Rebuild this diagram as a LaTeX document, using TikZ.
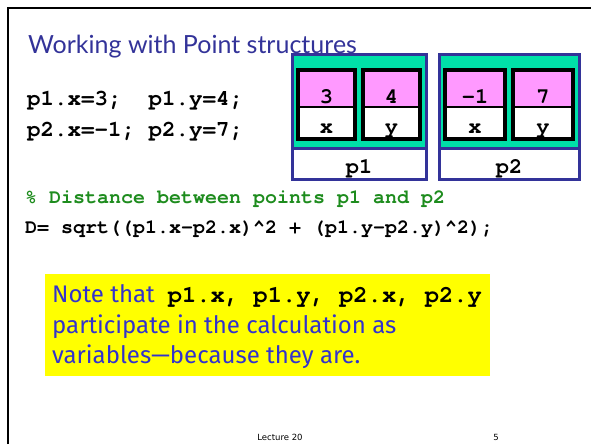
\documentclass[tikz,border=0pt]{standalone}
\usepackage{fontspec}
\setmainfont{Lato}
\newfontfamily\codefont{TeX Gyre Cursor}
\newfontfamily\notefont{Fira Sans}
\newfontfamily\footfont{DejaVu Sans}

\definecolor{titleblue}{HTML}{333399}
\definecolor{structgreen}{HTML}{00E0A8}
\definecolor{cellpink}{HTML}{FF99FF}
\definecolor{commentgreen}{HTML}{1E8C1E}
\definecolor{noteblue}{HTML}{3333CC}
\definecolor{noteyellow}{HTML}{FFFF00}

\tikzset{
  code/.style={inner sep=0pt, anchor=base west,
    font=\codefont\bfseries\fontsize{22.5}{26}\selectfont},
  smallcode/.style={code, font=\codefont\bfseries\fontsize{20}{24}\selectfont},
  celltext/.style={inner sep=0pt, anchor=base,
    font=\codefont\bfseries\fontsize{22}{26}\selectfont},
  notetext/.style={inner sep=0pt, anchor=base west, text=noteblue,
    font=\notefont\fontsize{24}{28}\selectfont},
  structbox/.style={fill=structgreen, draw=titleblue, line width=3pt},
  namebox/.style={fill=white, draw=titleblue, line width=3pt},
  fieldbox/.style={draw=black, line width=3.5pt}
}

\begin{document}
\begin{tikzpicture}[x=1pt,y=-1pt]
  \useasboundingbox (0,0) rectangle (591,444);

  % Slide frame
  \draw[line width=2.5pt] (8,444) -- (8,8) -- (591,8);

  \node[inner sep=0pt, anchor=base west, text=titleblue,
        font=\fontsize{25}{30}\selectfont] (title) at (28,53)
        {Working with Point structures};

  % Assignments
  \node[code] (line1) at (27,105) {p1.x=3;\ \ p1.y=4;};
  \node[code] (line2) at (27,136) {p2.x=-1; p2.y=7;};

  % Point structures p1 and p2
  \foreach \s/\ox/\ow/\xv/\yv in {p1/292/134/3/4, p2/439/140/-1/7}{
    \pgfmathsetmacro\cw{(\ow-20)/2}
    \filldraw[structbox] (\ox,55) rectangle ++(\ow,93);
    \filldraw[namebox] (\ox,148) rectangle ++(\ow,31);
    \node[celltext] (\s-name) at (\ox+\ow/2,173) {\s};
    \foreach \f/\i/\v in {x/0/\xv, y/1/\yv}{
      \pgfmathsetmacro\cx{\ox+6+\i*(\cw+8)}
      \fill[cellpink] (\cx,70) rectangle ++(\cw,37);
      \fill[white] (\cx,107) rectangle ++(\cw,32);
      \draw[black, line width=2.5pt] (\cx,107) -- ++(\cw,0);
      \draw[fieldbox] (\cx,70) rectangle ++(\cw,69);
      \node[celltext] (\s-\f-val) at (\cx+\cw/2,103) {\v};
      \node[celltext] (\s-\f) at (\cx+\cw/2,133) {\f};
    }
  }

  % Distance formula
  \node[smallcode, text=commentgreen] (comment) at (25,203)
        {\% Distance between points p1 and p2};
  \node[smallcode] (formula) at (25,233)
        {D= sqrt((p1.x-p2.x)\^{}2 + (p1.y-p2.y)\^{}2);};

  % Note
  \fill[noteyellow] (45,274) rectangle (490,376);
  \node[notetext] (note1) at (52,302) {Note that\hspace{13pt}%
        {\codefont\bfseries\fontsize{23.8}{28}\selectfont\color{black}p1.x, p1.y, p2.x, p2.y}};
  \node[notetext] (note2) at (52,333) {participate in the calculation as};
  \node[notetext] (note3) at (52,363) {variables—because they are.};

  % Footer
  \node[inner sep=0pt, anchor=base, font=\footfont\fontsize{8.5}{10}\selectfont]
        (lecture) at (280,440) {Lecture 20};
  \node[inner sep=0pt, anchor=base, font=\footfont\fontsize{8.5}{10}\selectfont]
        (page) at (496,440) {5};
\end{tikzpicture}
\end{document}
